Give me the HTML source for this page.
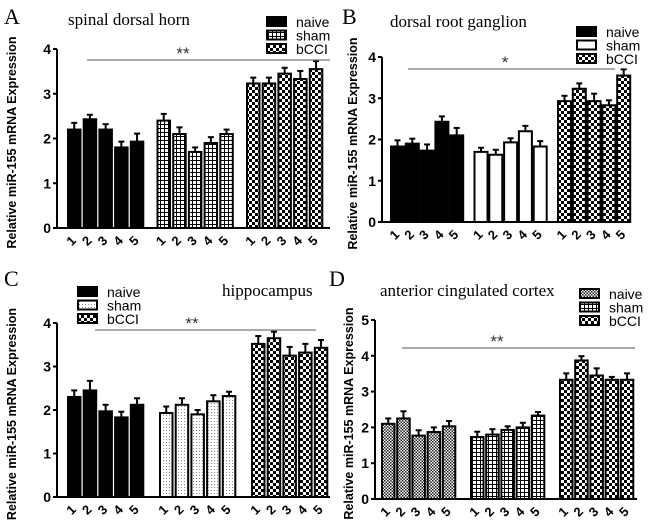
<!DOCTYPE html>
<html><head><meta charset="utf-8"><style>
html,body{margin:0;padding:0;background:#fff;}
svg{display:block;}
.sans{font-family:"Liberation Sans",sans-serif;}
.serif{font-family:"Liberation Serif",serif;}
</style></head><body>
<svg id="fig" width="650" height="527" viewBox="0 0 650 527">
<defs>
<pattern id="pGrid" width="4" height="4" patternUnits="userSpaceOnUse"><rect width="4" height="4" fill="#fff"/><path d="M0 0.5H4M0.5 0V4" stroke="#000" stroke-width="1"/></pattern>
<pattern id="pChk" width="6" height="6" patternUnits="userSpaceOnUse"><rect width="6" height="6" fill="#fff"/><rect width="3" height="3" fill="#000"/><rect x="3" y="3" width="3" height="3" fill="#000"/></pattern>
<pattern id="pFine" width="3" height="3" patternUnits="userSpaceOnUse"><rect width="3" height="3" fill="#fff"/><rect width="1.5" height="1.5" fill="#222"/><rect x="1.5" y="1.5" width="1.5" height="1.5" fill="#222"/></pattern>
<pattern id="pDot" width="3" height="3" patternUnits="userSpaceOnUse"><rect width="3" height="3" fill="#fff"/><rect x="1" y="1" width="1" height="1" fill="#888"/></pattern>
</defs>
</svg>
<script>
const groups = ["naive","sham","bCCI"];
const samples = ["1","2","3","4","5"];
const A_naive=[2.2,2.43,2.2,1.8,1.93], A_naiveErr=[0.15,0.1,0.12,0.13,0.18];
const A_sham=[2.4,2.1,1.7,1.9,2.1], A_shamErr=[0.15,0.15,0.1,0.13,0.1];
const A_bcci=[3.23,3.23,3.45,3.33,3.55], A_bcciErr=[0.13,0.13,0.13,0.18,0.18];
const B_naive=[1.83,1.9,1.73,2.43,2.1], B_naiveErr=[0.15,0.12,0.15,0.13,0.18];
const B_sham=[1.7,1.63,1.93,2.2,1.83], B_shamErr=[0.1,0.12,0.1,0.13,0.13];
const B_bcci=[2.93,3.23,2.93,2.83,3.55], B_bcciErr=[0.13,0.13,0.18,0.12,0.15];
const C_naive=[2.3,2.45,1.97,1.83,2.12], C_naiveErr=[0.15,0.22,0.15,0.13,0.15];
const C_sham=[1.93,2.12,1.9,2.2,2.32], C_shamErr=[0.15,0.15,0.1,0.14,0.1];
const C_bcci=[3.52,3.65,3.25,3.32,3.43], C_bcciErr=[0.18,0.15,0.2,0.2,0.18];
const D_naive=[2.1,2.25,1.77,1.87,2.03], D_naiveErr=[0.15,0.2,0.15,0.13,0.15];
const D_sham=[1.73,1.8,1.93,2.0,2.33], D_shamErr=[0.15,0.15,0.1,0.13,0.1];
const D_bcci=[3.33,3.87,3.45,3.33,3.33], D_bcciErr=[0.18,0.12,0.2,0.08,0.18];
const yTicksABC=[0,1,2,3,4];
const yTicksD=[0,1,2,3,4,5];

const NS="http://www.w3.org/2000/svg";
const svg=document.getElementById("fig");
function mk(tag,attrs,parent){const e=document.createElementNS(NS,tag);for(const k in attrs)e.setAttribute(k,attrs[k]);(parent||svg).appendChild(e);return e;}

const panels=[
 {id:"a",letter:"A",lx:4,ly:24,title:"spinal dorsal horn",tx:68,ty:25,ax:57,y0:228,yTop:49,yMax:4,ticks:yTicksABC,x0:68,gStep:89.5,bStep:15.7,bw:12.5,axEnd:330,
  data:[A_naive,A_sham,A_bcci],err:[A_naiveErr,A_shamErr,A_bcciErr],fills:["#000","url(#pGrid)","url(#pChk)"],
  sig:{x1:87,x2:330,y:60,txt:"**",tx:183},leg:{x:267,y:17},ytitleX:16},
 {id:"b",letter:"B",lx:342,ly:24,title:"dorsal root ganglion",tx:390,ty:27,ax:382,y0:222,yTop:57,yMax:4,ticks:yTicksABC,x0:391,gStep:83.5,bStep:14.8,bw:13,axEnd:630,
  data:[B_naive,B_sham,B_bcci],err:[B_naiveErr,B_shamErr,B_bcciErr],fills:["#000","#fff","url(#pChk)"],
  sig:{x1:408,x2:615,y:69,txt:"*",tx:505},leg:{x:577,y:27},ytitleX:357},
 {id:"c",letter:"C",lx:4,ly:286,title:"hippocampus",tx:222,ty:296,ax:57,y0:497,yTop:323,yMax:4,ticks:yTicksABC,x0:68,gStep:92,bStep:15.7,bw:12.5,axEnd:330,
  data:[C_naive,C_sham,C_bcci],err:[C_naiveErr,C_shamErr,C_bcciErr],fills:["#000","url(#pDot)","url(#pChk)"],
  sig:{x1:95,x2:316,y:330,txt:"**",tx:192},leg:{x:78,y:287},ytitleX:16},
 {id:"d",letter:"D",lx:329,ly:286,title:"anterior cingulated cortex",tx:380,ty:296,ax:375,y0:499,yTop:320,yMax:5,ticks:yTicksD,x0:382,gStep:89,bStep:15.2,bw:12.5,axEnd:637,
  data:[D_naive,D_sham,D_bcci],err:[D_naiveErr,D_shamErr,D_bcciErr],fills:["url(#pFine)","url(#pGrid)","url(#pChk)"],
  sig:{x1:402,x2:635,y:348,txt:"**",tx:497},leg:{x:580,y:289},ytitleX:353}
];

panels.forEach(p=>{
 const g=mk("g",{});
 
 
 const yS=v=>p.y0-(v/p.yMax)*(p.y0-p.yTop);
 const xS=(gi,bi)=>p.x0+gi*p.gStep+bi*p.bStep;
 const L=mk("text",{x:p.lx,y:p.ly,class:"serif","font-size":22},g);L.textContent=p.letter;
 
 
 const T=mk("text",{x:p.tx,y:p.ty,class:"serif","font-size":17},g);T.textContent=p.title;
 
 
 const yt=mk("text",{x:0,y:0,class:"sans","font-size":12.5,"font-weight":"bold","text-anchor":"middle",transform:`translate(${p.ytitleX},${(p.y0+p.yTop)/2+4}) rotate(-90)`},g);
 yt.textContent="Relative miR-155 mRNA Expression";
 
 
 p.data.forEach((arr,gi)=>{
  arr.forEach((v,bi)=>{
   const x=xS(gi,bi), yt2=yS(v), ye=yS(v+p.err[gi][bi]);
   const el=mk("line",{x1:x+p.bw/2,x2:x+p.bw/2,y1:yt2,y2:ye,stroke:"#000","stroke-width":2},g);
   
   
   const cap=mk("line",{x1:x+p.bw/2-3,x2:x+p.bw/2+3,y1:ye,y2:ye,stroke:"#000","stroke-width":2},g);
   
   
   const r=mk("rect",{x:x,y:yt2,width:p.bw,height:p.y0-yt2,fill:p.fills[gi],stroke:"#000","stroke-width":2},g);
   
   
   const tl=mk("text",{x:0,y:0,class:"sans","font-size":13,"font-weight":"bold","text-anchor":"middle",transform:`translate(${x+p.bw/2},${p.y0+16}) rotate(-45)`},g);
   tl.textContent=samples[bi];
   
   
  });
 });
 const ya=mk("line",{x1:p.ax,x2:p.ax,y1:p.yTop,y2:p.y0+1,stroke:"#000","stroke-width":2},g);
 
 
 const xa=mk("line",{x1:p.ax-1,x2:p.axEnd,y1:p.y0,y2:p.y0,stroke:"#000","stroke-width":2},g);
 
 
 p.ticks.forEach(t=>{
  const tk=mk("line",{x1:p.ax-4,x2:p.ax,y1:yS(t),y2:yS(t),stroke:"#000","stroke-width":2},g);
  
  
  const lb=mk("text",{x:p.ax-6,y:yS(t)+5,class:"sans","font-size":14,"font-weight":"bold","text-anchor":"end"},g);
  lb.textContent=t;
  
  
 });
 const sl=mk("line",{x1:p.sig.x1,x2:p.sig.x2,y1:p.sig.y,y2:p.sig.y,stroke:"#777","stroke-width":1.3},g);
 
 
 const st=mk("text",{x:p.sig.tx,y:p.sig.y-1,class:"sans","font-size":17,"text-anchor":"middle",fill:"#333"},g);
 st.textContent=p.sig.txt;
 
 
 groups.forEach((nm,i)=>{
  const ly=p.leg.y+i*13.5;
  const lr=mk("rect",{x:p.leg.x,y:ly,width:19,height:9,fill:p.fills[i],stroke:"#000","stroke-width":2},g);
  
  
  const lt=mk("text",{x:p.leg.x+29,y:ly+10,class:"sans","font-size":14},g);
  lt.textContent=nm;
  
  
 });
});
</script>
</body></html>
